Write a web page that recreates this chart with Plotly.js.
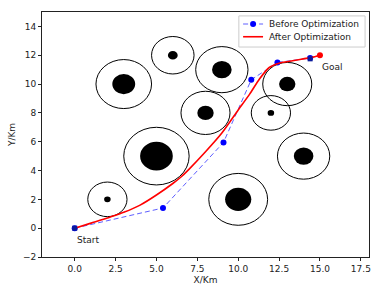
<!DOCTYPE html>
<html>
<head>
<meta charset="utf-8">
<script src="https://cdn.plot.ly/plotly-3.0.1.min.js"></script>
<style>html,body{margin:0;padding:0;background:#fff}#chart{width:391px;height:292px}</style>
</head>
<body>
<div id="chart"></div>
<script>
// Obstacles: centres, inner (solid) radius, outer (safety) radius
var obsX = [2, 5, 3, 6, 9, 8, 13, 12, 14, 10];
var obsY = [2, 5, 10, 12, 11, 8, 10, 8, 5, 2];
var obsInner = [0.2, 1.0, 0.7, 0.3, 0.6, 0.5, 0.5, 0.2, 0.6, 0.8];
var obsOuter = [1.2, 2.0, 1.7, 1.3, 1.6, 1.5, 1.5, 1.2, 1.6, 1.8];

// Path before optimization (waypoints)
var beforeX = [0, 5.4, 9.1, 10.8, 12.4, 14.4];
var beforeY = [0, 1.4, 5.95, 10.3, 11.5, 11.8];

// Path after optimization (smooth curve)
var afterX = [0, 1, 2, 2.5, 3, 4, 5, 6, 6.5, 7, 8, 9, 10, 10.7, 11.3, 11.9, 12.5, 13.5, 14.5, 15];
var afterY = [0, 0.35, 0.7, 0.9, 1.1, 1.6, 2.3, 3.1, 3.55, 4.1, 5.3, 6.6, 8.2, 9.3, 10.35, 11.15, 11.45, 11.65, 11.85, 12];

// Square markers at start and last waypoint, red goal dot
var squareX = [0, 14.4];
var squareY = [0, 11.75];
var goalX = [15];
var goalY = [12];

var labelText = ["Start", "Goal"];
var labelX = [0, 15];
var labelY = [-0.8, 11.2];

var legendNames = ["Before Optimization", "After Optimization"];

var xTicks = [0, 2.5, 5, 7.5, 10, 12.5, 15, 17.5];
var yTicks = [-2, 0, 2, 4, 6, 8, 10, 12, 14];

var FONT = "DejaVu Sans, sans-serif";
var FS = 9;
var TXT = '#222';
var BLUE_LINE = 'rgba(40,40,255,0.75)';

var shapes = [];
for (var i = 0; i < obsX.length; i++) {
  shapes.push({type: 'circle', xref: 'x', yref: 'y', layer: 'below',
    x0: obsX[i] - obsOuter[i], x1: obsX[i] + obsOuter[i],
    y0: obsY[i] - obsOuter[i], y1: obsY[i] + obsOuter[i],
    line: {color: '#000', width: 1}, fillcolor: 'rgba(0,0,0,0)'});
  shapes.push({type: 'circle', xref: 'x', yref: 'y', layer: 'below',
    x0: obsX[i] - obsInner[i], x1: obsX[i] + obsInner[i],
    y0: obsY[i] - obsInner[i], y1: obsY[i] + obsInner[i],
    line: {color: '#000', width: 0}, fillcolor: '#000'});
}

// Legend (drawn as a compact matplotlib-style box)
var lgX0 = 0.602, lgX1 = 0.988, lgY0 = 0.857, lgY1 = 0.984;
var rowY = [0.951, 0.899];
var sampleX0 = 0.615, sampleX1 = 0.676, sampleMid = 0.6455, textX = 0.690;
shapes.push({type: 'rect', xref: 'paper', yref: 'paper', layer: 'above',
  x0: lgX0, x1: lgX1, y0: lgY0, y1: lgY1,
  line: {color: '#cccccc', width: 1}, fillcolor: 'rgba(255,255,255,0.85)'});
shapes.push({type: 'line', xref: 'paper', yref: 'paper', layer: 'above',
  x0: sampleX0, x1: sampleX1, y0: rowY[0], y1: rowY[0],
  line: {color: BLUE_LINE, width: 1, dash: '5px,3px'}});
shapes.push({type: 'circle', xref: 'paper', yref: 'paper', layer: 'above',
  xsizemode: 'pixel', ysizemode: 'pixel', xanchor: sampleMid, yanchor: rowY[0],
  x0: -3, x1: 3, y0: -3, y1: 3, line: {width: 0}, fillcolor: '#0000ff'});
shapes.push({type: 'line', xref: 'paper', yref: 'paper', layer: 'above',
  x0: sampleX0, x1: sampleX1, y0: rowY[1], y1: rowY[1],
  line: {color: '#ff0000', width: 1.6}});

var traces = [
  {x: beforeX, y: beforeY, type: 'scatter', mode: 'lines+markers', name: legendNames[0],
   line: {color: BLUE_LINE, width: 1, dash: '5px,3px'},
   marker: {color: '#0000ff', size: 6, symbol: 'circle'}},
  {x: afterX, y: afterY, type: 'scatter', mode: 'lines', name: legendNames[1],
   line: {color: '#ff0000', width: 1.6, shape: 'spline', smoothing: 0.6}},
  {x: squareX, y: squareY, type: 'scatter', mode: 'markers', showlegend: false,
   marker: {color: '#0a1a9a', size: 5, symbol: 'square'}},
  {x: goalX, y: goalY, type: 'scatter', mode: 'markers', showlegend: false,
   marker: {color: '#ff0000', size: 6, symbol: 'circle'}}
];

var annotations = labelText.map(function (t, i) {
  return {x: labelX[i], y: labelY[i], xref: 'x', yref: 'y', text: t, showarrow: false,
    xanchor: 'left', yanchor: 'middle', font: {family: FONT, size: FS, color: TXT}};
});
legendNames.forEach(function (t, i) {
  annotations.push({x: textX, y: rowY[i], xref: 'paper', yref: 'paper', text: t,
    showarrow: false, xanchor: 'left', yanchor: 'middle', borderpad: 0,
    font: {family: FONT, size: FS, color: TXT}});
});

var layout = {
  width: 391, height: 292,
  margin: {l: 42, r: 22, t: 12, b: 35, pad: 0},
  paper_bgcolor: '#fff', plot_bgcolor: '#fff',
  font: {family: FONT, size: FS, color: TXT},
  showlegend: false,
  xaxis: {range: [-2, 18], tickvals: xTicks, tickformat: '.1f', ticks: 'outside', ticklen: 3,
    tickcolor: TXT, showgrid: false, zeroline: false, showline: true, mirror: true,
    linecolor: TXT, linewidth: 1,
    title: {text: 'X/Km', font: {family: FONT, size: FS, color: TXT}, standoff: 3}},
  yaxis: {range: [-2, 15], tickvals: yTicks, ticks: 'outside', ticklen: 3,
    tickcolor: TXT, showgrid: false, zeroline: false, showline: true, mirror: true,
    linecolor: TXT, linewidth: 1,
    title: {text: 'Y/Km', font: {family: FONT, size: FS, color: TXT}, standoff: 5}},
  shapes: shapes,
  annotations: annotations
};

Plotly.newPlot('chart', traces, layout, {displayModeBar: false, staticPlot: true});
</script>
</body>
</html>
